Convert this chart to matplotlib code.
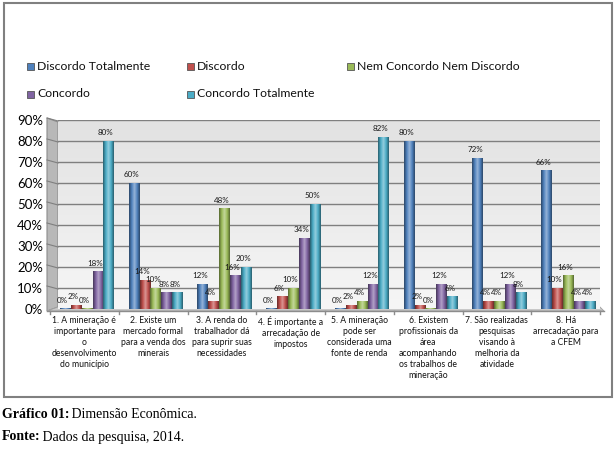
import matplotlib
matplotlib.use("Agg")
import matplotlib.pyplot as plt
import numpy as np
from matplotlib.colors import LinearSegmentedColormap, to_rgb
from matplotlib.patches import Polygon, Rectangle

categories = [
    "1. A mineração é\nimportante para\no\ndesenvolvimento\ndo município",
    "2. Existe um\nmercado formal\npara a venda dos\nminerais",
    "3. A renda do\ntrabalhador dá\npara suprir suas\nnecessidades",
    "4. É importante a\narrecadação de\nimpostos",
    "5. A mineração\npode ser\nconsiderada uma\nfonte de renda",
    "6. Existem\nprofissionais da\nárea\nacompanhando\nos trabalhos de\nmineração",
    "7. São realizadas\npesquisas\nvisando à\nmelhoria da\natividade",
    "8. Há\narrecadação para\na CFEM",
]
series_names = ["Discordo Totalmente", "Discordo", "Nem Concordo Nem Discordo",
                "Concordo", "Concordo Totalmente"]
discordo_totalmente = [0, 60, 12, 0, 0, 80, 72, 66]
discordo = [2, 14, 4, 6, 2, 2, 4, 10]
nem_concordo = [0, 10, 48, 10, 4, 0, 4, 16]
concordo = [18, 8, 16, 34, 12, 12, 12, 4]
concordo_totalmente = [80, 8, 20, 50, 82, 6, 8, 4]
series = [discordo_totalmente, discordo, nem_concordo, concordo, concordo_totalmente]
colors = ["#4F81BD", "#C0504D", "#9BBB59", "#8064A2", "#4BACC6"]
yticks = [0, 10, 20, 30, 40, 50, 60, 70, 80, 90]

FONT = "Lato"
W, H = 614, 455
fig = plt.figure(figsize=(W / 100, H / 100), dpi=100)
fig.patch.set_facecolor("white")

def fx(px):
    return px / W

def fy(py):
    return 1 - py / H

# outer frame
fig.add_artist(Rectangle((fx(4), fy(397)), fx(612) - fx(4), fy(3) - fy(397),
                         transform=fig.transFigure, fill=False,
                         edgecolor="#808080", linewidth=1.5))

ax_l, ax_r, ax_t, ax_b = 50, 600, 120, 309
ax = fig.add_axes([fx(ax_l), fy(ax_b), fx(ax_r) - fx(ax_l), fy(ax_t) - fy(ax_b)])
ax.patch.set_alpha(0)
for s in ax.spines.values():
    s.set_visible(False)

# back wall gradient
wall_x0 = -0.5 + 8 / 68.75
grad = np.linspace(0, 1, 256).reshape(-1, 1)
wall_cmap = LinearSegmentedColormap.from_list("wall", ["#f6f6f6", "#e2e2e2"])
ax.imshow(grad, extent=[wall_x0, 7.5, 0, 90], origin="lower", cmap=wall_cmap,
          aspect="auto", zorder=0)

# left side wall
side = Polygon([(fx(47), fy(311)), (fx(58), fy(307)), (fx(58), fy(122)), (fx(47), fy(118))],
               closed=True, transform=fig.transFigure, facecolor="#b8b8b8",
               edgecolor="#8c8c8c", linewidth=0.8, zorder=0)
fig.add_artist(side)
# floor strip
floor = Polygon([(fx(47), fy(311)), (fx(604), fy(311)), (fx(600), fy(307)), (fx(58), fy(307))],
                closed=True, transform=fig.transFigure, facecolor="#c8c8c8",
                edgecolor="#a0a0a0", linewidth=0.6, zorder=0)
fig.add_artist(floor)

# gridlines
for t in yticks[1:]:
    ax.plot([wall_x0, 7.5], [t, t], color="#7f7f7f", linewidth=1.0, zorder=1)
    py = ax_b - (ax_b - ax_t) * t / 90
    fig.add_artist(plt.Line2D([fx(47), fx(58)], [fy(py - 2), fy(py + 1)],
                              transform=fig.transFigure, color="#7f7f7f", linewidth=0.8))

# bars with cylinder shading
bw = 0.158
offsets = (np.arange(5) - 2) * bw + 0.04
x = np.arange(len(categories))

def cyl_cmap(c):
    r, g, b = to_rgb(c)
    dark = (r * 0.55, g * 0.55, b * 0.55)
    light = tuple(min(1, v + (1 - v) * 0.4) for v in (r, g, b))
    return LinearSegmentedColormap.from_list("cyl", [dark, c, light, c, dark])

hgrad = np.linspace(0, 1, 64).reshape(1, -1)
for si, (vals, col) in enumerate(zip(series, colors)):
    cm = cyl_cmap(col)
    for xi, v in zip(x, vals):
        h = max(v, 0.35)
        x0 = xi + offsets[si] - bw / 2
        rect = Rectangle((x0, 0), bw * 0.95, h, facecolor=col, edgecolor="none", zorder=2)
        ax.add_patch(rect)
        im = ax.imshow(hgrad, extent=[x0, x0 + bw * 0.95, 0, h], cmap=cm,
                       aspect="auto", zorder=3)
        im.set_clip_path(rect)
        ax.text(x0 + bw * 0.48 - 0.04, v + 2.2, f"{v}%", ha="center", va="bottom",
                fontsize=5.8, color="#1a1a1a", zorder=5, family=FONT)

ax.set_xlim(-0.5, 7.5)
ax.set_ylim(0, 90)

# x axis line and ticks
fig.add_artist(plt.Line2D([fx(47), fx(604)], [fy(311), fy(311)],
                          transform=fig.transFigure, color="#8c8c8c", linewidth=1))
ax.set_xticks(x)
ax.set_xticklabels(categories, fontsize=6.2, family=FONT, linespacing=1.3,
                   color="#111111")
ax.tick_params(axis="x", length=0, pad=5)
for b in np.arange(-0.5, 8, 1):
    px = ax_l + (b + 0.5) * 68.75
    fig.add_artist(plt.Line2D([fx(px), fx(px)], [fy(311), fy(314)],
                              transform=fig.transFigure, color="#8c8c8c", linewidth=1))

ax.set_yticks(yticks)
ax.set_yticklabels([f"{t}%" for t in yticks], fontsize=9.5, family=FONT)
ax.tick_params(axis="y", length=0, pad=5)

# legend
leg_pos = [(27, 66), (187, 66), (347, 66), (27, 94), (187, 94)]
for (lx, ly), name, col in zip(leg_pos, series_names, colors):
    fig.add_artist(Rectangle((fx(lx), fy(ly + 4)), fx(7), 7 / H, transform=fig.transFigure,
                             facecolor=col, edgecolor="#555555", linewidth=0.6))
    fig.text(fx(lx + 10), fy(ly), name, fontsize=8.8, va="center", ha="left",
             family=FONT, color="#111111")

# caption
fig.canvas.draw()
renderer = fig.canvas.get_renderer()
for yy, bold, rest in [(415, "Gráfico 01:", " Dimensão Econômica."),
                       (437, "Fonte:", " Dados da pesquisa, 2014.")]:
    tb = fig.text(fx(2), fy(yy), bold, fontsize=10, va="center", ha="left",
                  family="Liberation Serif", weight="bold")
    bb = tb.get_window_extent(renderer)
    fig.text(bb.x1 / W - 0.002, fy(yy), rest, fontsize=10, va="center", ha="left",
             family="Liberation Serif")

fig.savefig("out.png", dpi=100)
